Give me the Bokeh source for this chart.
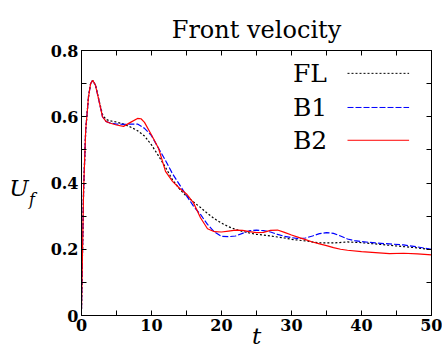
from bokeh.plotting import figure
from bokeh.layouts import row
from bokeh.models import LinearAxis, FixedTicker, Label, Range1d, CustomJSTickFormatter
from bokeh.core.properties import value
from bokeh.embed import file_html
from bokeh.resources import INLINE

# ---- data ----
t_fl = [0, 0.3, 0.6, 1.0, 1.3, 1.6, 2.0, 2.5, 3.0, 3.5, 4, 5, 6, 7, 8, 9, 10, 11, 12, 13, 14, 15, 16, 17, 18, 19,
        20, 21, 22, 23, 24, 25, 26, 27, 28, 29, 30, 32, 34, 36, 38, 40, 42, 44, 46, 48, 50]
u_fl = [0.02, 0.38, 0.56, 0.66, 0.70, 0.71, 0.695, 0.65, 0.607, 0.592, 0.588, 0.584, 0.578, 0.569, 0.558, 0.542,
        0.515, 0.482, 0.447, 0.41, 0.382, 0.36, 0.343, 0.326, 0.308, 0.292, 0.279, 0.268, 0.26, 0.254, 0.249,
        0.245, 0.243, 0.240, 0.237, 0.234, 0.230, 0.225, 0.219, 0.219, 0.222, 0.220, 0.216, 0.212, 0.208, 0.204, 0.199]

t_b1 = [0, 0.3, 0.6, 1.0, 1.3, 1.6, 2.0, 2.5, 3.0, 3.5, 4, 5, 6, 7, 8, 9, 10, 11, 12, 13, 14, 15, 16, 17, 18, 19,
        20, 21, 22, 23, 24, 25, 26, 27, 28, 29, 30, 31, 32, 33, 34, 35, 36, 37, 38, 39, 40, 42, 44, 46, 48, 50]
u_b1 = [0.02, 0.38, 0.56, 0.66, 0.70, 0.71, 0.695, 0.648, 0.600, 0.586, 0.582, 0.578, 0.577, 0.578, 0.578, 0.565,
        0.543, 0.505, 0.468, 0.428, 0.395, 0.362, 0.330, 0.305, 0.275, 0.252, 0.239, 0.238, 0.240, 0.248, 0.256,
        0.258, 0.256, 0.252, 0.245, 0.239, 0.235, 0.232, 0.234, 0.240, 0.247, 0.250, 0.248, 0.240, 0.231, 0.226,
        0.223, 0.219, 0.216, 0.213, 0.207, 0.200]

t_b2 = [0, 0.3, 0.6, 1.0, 1.3, 1.6, 2.0, 2.5, 3.0, 3.5, 4, 5, 6, 7, 8, 8.5, 9, 10, 11, 12, 13, 14, 15, 16, 17, 18,
        19, 20, 21, 22, 23, 24, 25, 26, 27, 28, 29, 30, 31, 32, 33, 34, 35, 36, 37, 38, 40, 42, 44, 46, 48, 50]
u_b2 = [0.02, 0.38, 0.56, 0.66, 0.70, 0.71, 0.695, 0.648, 0.600, 0.586, 0.581, 0.575, 0.571, 0.583, 0.595, 0.594,
        0.583, 0.545, 0.505, 0.435, 0.405, 0.384, 0.367, 0.340, 0.295, 0.262, 0.253, 0.252, 0.255, 0.258, 0.257,
        0.253, 0.250, 0.251, 0.257, 0.258, 0.251, 0.243, 0.236, 0.229, 0.222, 0.216, 0.211, 0.205, 0.200, 0.197,
        0.193, 0.190, 0.187, 0.188, 0.186, 0.183]

x_major = [0, 10, 20, 30, 40, 50]
x_minor = [5, 15, 25, 35, 45]
y_major = [0, 0.2, 0.4, 0.6, 0.8]
y_minor = [0.1, 0.3, 0.5, 0.7]
y_labels = {0: "0", 0.2: "0.2", 0.4: "0.4", 0.6: "0.6", 0.8: "0.8"}

series_names = ["FL", "B1", "B2"]
series_colors = ["black", "blue", "red"]
series_dash = ["2 2", "6 2", "solid"]

FONT = "DejaVu Serif"
STRIP_W = 40
W, H = 442, 353

# ---- narrow strip holding the y-axis label U_f ----
s = figure(width=STRIP_W, height=H, output_backend="svg", toolbar_location=None, title=None,
           x_range=Range1d(0, 1), y_range=Range1d(0, 1), min_border=0,
           x_axis_location=None, y_axis_location=None, outline_line_color=None)
s.grid.visible = False
s.text(x=[0.22], y=[0.482], text=["U"], text_font=value(FONT), text_font_style="italic",
       text_font_size="23px", text_baseline="middle", text_align="left", text_color="black")
s.text(x=[0.71], y=[0.439], text=["f"], text_font=value(FONT), text_font_style="italic",
       text_font_size="16px", text_baseline="alphabetic", text_align="left", text_color="black")

# ---- main plot ----
p = figure(width=W - STRIP_W, height=H, output_backend="svg", toolbar_location=None,
           x_range=Range1d(0, 50), y_range=Range1d(0, 0.8),
           min_border_left=81 - STRIP_W, min_border_right=11, min_border_top=50, min_border_bottom=38,
           x_axis_location=None, y_axis_location=None)
p.title.text = "Front velocity"
p.title.text_font = FONT
p.title.text_font_size = "24px"
p.title.text_font_style = "normal"
p.title.text_color = "black"
p.title.align = "center"
p.title.vertical_align = "top"
p.title.standoff = 10
p.grid.visible = False
p.outline_line_color = "black"

xt = FixedTicker(ticks=x_major, minor_ticks=x_minor)
yt = FixedTicker(ticks=y_major, minor_ticks=y_minor)
blank = CustomJSTickFormatter(code="return '';")


def style(ax):
    ax.axis_line_color = "black"
    ax.major_tick_in = 5
    ax.major_tick_out = 0
    ax.minor_tick_in = 5
    ax.minor_tick_out = 0
    ax.major_tick_line_color = "black"
    ax.minor_tick_line_color = "black"
    ax.major_label_text_font = FONT
    ax.major_label_text_font_size = "16px"
    ax.major_label_text_font_style = "bold"
    ax.major_label_text_color = "black"
    ax.major_label_standoff = 3


bottom = LinearAxis(ticker=xt, axis_label="t")
style(bottom)
bottom.axis_label_text_font = FONT
bottom.axis_label_text_font_style = "italic"
bottom.axis_label_text_font_size = "23px"
bottom.axis_label_text_color = "black"
bottom.axis_label_standoff = -11
left = LinearAxis(ticker=yt, major_label_overrides=y_labels)
style(left)
top = LinearAxis(ticker=xt, formatter=blank)
style(top)
right = LinearAxis(ticker=yt, formatter=blank)
style(right)
p.add_layout(bottom, "below")
p.add_layout(left, "left")
p.add_layout(top, "above")
p.add_layout(right, "right")

data = [(t_fl, u_fl), (t_b1, u_b1), (t_b2, u_b2)]
for (tt, uu), c, d in zip(data, series_colors, series_dash):
    p.line(tt, uu, line_color=c, line_dash=d, line_width=1.2)

# legend (labels to the left of samples)
leg_y = [0.731, 0.628, 0.529]
for name, c, d, yy in zip(series_names, series_colors, series_dash, leg_y):
    p.add_layout(Label(x=30.2, y=yy, text=name, text_font=FONT, text_font_size="25px",
                       text_baseline="middle", text_align="left", text_color="black"))
    p.line([38.0, 46.8], [yy, yy], line_color=c, line_dash=d, line_width=1.0)

layout = row(s, p)
open("out.html", "w").write(file_html(layout, INLINE))
